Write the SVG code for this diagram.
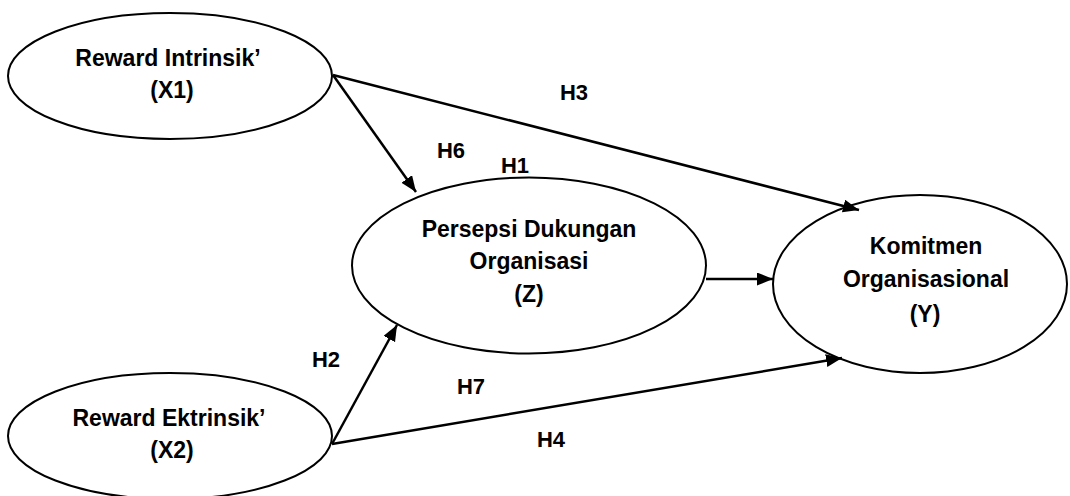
<svg xmlns="http://www.w3.org/2000/svg" width="1070" height="496" viewBox="0 0 1070 496">
  <defs>
    <marker id="arrow" markerUnits="userSpaceOnUse" markerWidth="17" markerHeight="14" refX="16" refY="6.5" orient="auto">
      <path d="M0,0 L16,6.5 L0,13 z" fill="#000"/>
    </marker>
  </defs>
  <style>
    .node ellipse { fill: #fff; stroke: #000; stroke-width: 2; }
    .node text { font-family: "Liberation Sans", Arial, sans-serif; font-weight: bold; font-size: 23px; text-anchor: middle; fill: #000; }
    .edge { stroke: #000; stroke-width: 2.5; fill: none; marker-end: url(#arrow); }
    .lbl { font-family: "Liberation Sans", Arial, sans-serif; font-weight: bold; font-size: 22px; text-anchor: middle; fill: #000; }
  </style>
  <rect width="1070" height="496" fill="#fff"/>

  <g id="node-x1" class="node">
    <ellipse cx="170" cy="76" rx="162" ry="63"/>
    <text x="168" y="66">Reward Intrinsik’</text>
    <text x="172" y="98">(X1)</text>
  </g>

  <g id="node-x2" class="node">
    <ellipse cx="170" cy="436" rx="162" ry="63"/>
    <text x="169" y="426">Reward Ektrinsik’</text>
    <text x="172" y="458">(X2)</text>
  </g>

  <g id="node-z" class="node">
    <ellipse cx="529" cy="265.5" rx="177" ry="88"/>
    <text x="529" y="237">Persepsi Dukungan</text>
    <text x="529" y="269">Organisasi</text>
    <text x="529" y="302">(Z)</text>
  </g>

  <g id="node-y" class="node">
    <ellipse cx="920" cy="284" rx="147" ry="89"/>
    <text x="926" y="254">Komitmen</text>
    <text x="926" y="287">Organisasional</text>
    <text x="925" y="322">(Y)</text>
  </g>

  <g id="connectors">
    <line class="edge" x1="333" y1="75" x2="416" y2="192"/>
    <line class="edge" x1="333" y1="75" x2="859" y2="210"/>
    <line class="edge" x1="706" y1="279" x2="773" y2="279"/>
    <line class="edge" x1="332" y1="444" x2="397" y2="325"/>
    <line class="edge" x1="332" y1="444" x2="842" y2="358"/>
  </g>

  <g id="labels">
    <text class="lbl" x="574" y="100">H3</text>
    <text class="lbl" x="451" y="158">H6</text>
    <text class="lbl" x="515" y="173">H1</text>
    <text class="lbl" x="326" y="367">H2</text>
    <text class="lbl" x="471" y="394">H7</text>
    <text class="lbl" x="551" y="447">H4</text>
  </g>
</svg>
